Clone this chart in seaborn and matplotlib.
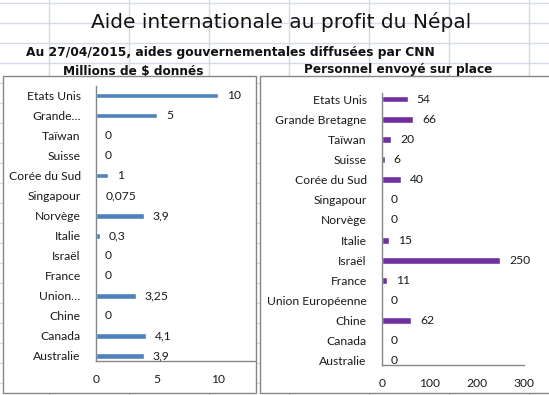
import matplotlib
matplotlib.use("Agg")
import matplotlib.pyplot as plt
import seaborn as sns
import pandas as pd
from matplotlib.patches import Rectangle
from matplotlib.lines import Line2D

# ---- data ----
countries = ["Etats Unis", "Grande Bretagne", "Taïwan", "Suisse", "Corée du Sud",
             "Singapour", "Norvège", "Italie", "Israël", "France",
             "Union Européenne", "Chine", "Canada", "Australie"]
labels_left = ["Etats Unis", "Grande…", "Taïwan", "Suisse", "Corée du Sud",
               "Singapour", "Norvège", "Italie", "Israël", "France",
               "Union…", "Chine", "Canada", "Australie"]
millions_usd = [10, 5, 0, 0, 1, 0.075, 3.9, 0.3, 0, 0, 3.25, 0, 4.1, 3.9]
personnel = [54, 66, 20, 6, 40, 0, 0, 15, 250, 11, 0, 62, 0, 0]
left_ticks = [0, 5, 10]
right_ticks = [0, 100, 200, 300]

title = "Aide internationale au profit du Népal"
subtitle = "Au 27/04/2015, aides gouvernementales diffusées par CNN"
left_title = "Millions de $ donnés"
right_title = "Personnel envoyé sur place"

W, H = 549, 395
sns.set_style("white")
plt.rcParams["font.family"] = ["Lato", "DejaVu Sans"]

fig = plt.figure(figsize=(W / 100, H / 100), dpi=100)
fig.patch.set_facecolor("white")

def fx(px):
    return px / W

def fy(py):
    return 1 - py / H

# spreadsheet gridlines
grid_c = "#d4dbe6"
for yy in range(3, H, 20):
    fig.add_artist(Line2D([0, 1], [fy(yy), fy(yy)], color=grid_c, lw=1, zorder=0))
for xx in range(49, W, 80):
    fig.add_artist(Line2D([fx(xx), fx(xx)], [0, 1], color=grid_c, lw=1, zorder=0))

# chart panels
border_c = "#868686"
fig.add_artist(Rectangle((fx(3), fy(393)), fx(256 - 3), (393 - 76) / H,
                         facecolor="white", edgecolor=border_c, lw=1, zorder=1))
fig.add_artist(Rectangle((fx(260), fy(393)), fx(300), (393 - 76) / H,
                         facecolor="white", edgecolor=border_c, lw=1, zorder=1))

# texts
fig.text(fx(281.5), fy(22), title, ha="center", va="center", fontsize=14.5,
         family="DejaVu Sans", color="#111111", zorder=3)
fig.text(fx(230.5), fy(52.5), subtitle, ha="center", va="center", fontsize=8.8,
         family="DejaVu Sans", weight="bold", color="#111111", zorder=3)
fig.text(fx(133), fy(71.5), left_title, ha="center", va="center", fontsize=8.7,
         family="DejaVu Sans", weight="bold", color="#111111", zorder=3)
fig.text(fx(398.5), fy(70), right_title, ha="center", va="center", fontsize=8.7,
         family="DejaVu Sans", weight="bold", color="#111111", zorder=3)

def fr(v):
    return f"{v:g}".replace(".", ",")

def make_axes(x0, x1, y0, y1, values, color, ylabels, xlim, ticks, ylim, width):
    ax = fig.add_axes([fx(x0), fy(y1), fx(x1 - x0), (y1 - y0) / H], zorder=4)
    ax.patch.set_alpha(0)
    df = pd.DataFrame({"pays": countries, "val": values})
    sns.barplot(data=df, x="val", y="pays", orient="h", color=color,
                width=width, saturation=1, ax=ax)
    ax.set_xlim(*xlim)
    ax.set_ylim(*ylim)
    ax.set_xticks(ticks)
    ax.set_xticklabels([str(t) for t in ticks])
    ax.set_yticks(range(len(countries)))
    ax.set_yticklabels(ylabels)
    ax.set_xlabel("")
    ax.set_ylabel("")
    for s in ["top", "right"]:
        ax.spines[s].set_visible(False)
    for s in ["left", "bottom"]:
        ax.spines[s].set_color(border_c)
        ax.spines[s].set_linewidth(1)
    ax.tick_params(axis="both", length=0, labelsize=8.7, colors="#1a1a1a")
    ax.tick_params(axis="y", pad=11)
    ax.tick_params(axis="x", pad=9.5)
    ax.bar_label(ax.containers[0], labels=[fr(v) for v in values], padding=6.5,
                 fontsize=8.7, color="#1a1a1a")
    return ax

make_axes(96, 255, 86.5, 361, millions_usd, "#4f81bd", labels_left, (0, 13.05),
          left_ticks, (13.25, -0.45), 0.28)
make_axes(382, 524, 93, 365, personnel, "#7030a0", countries, (0, 300),
          right_ticks, (13.2, -0.3), 0.34)

fig.savefig("out.png", dpi=100)
